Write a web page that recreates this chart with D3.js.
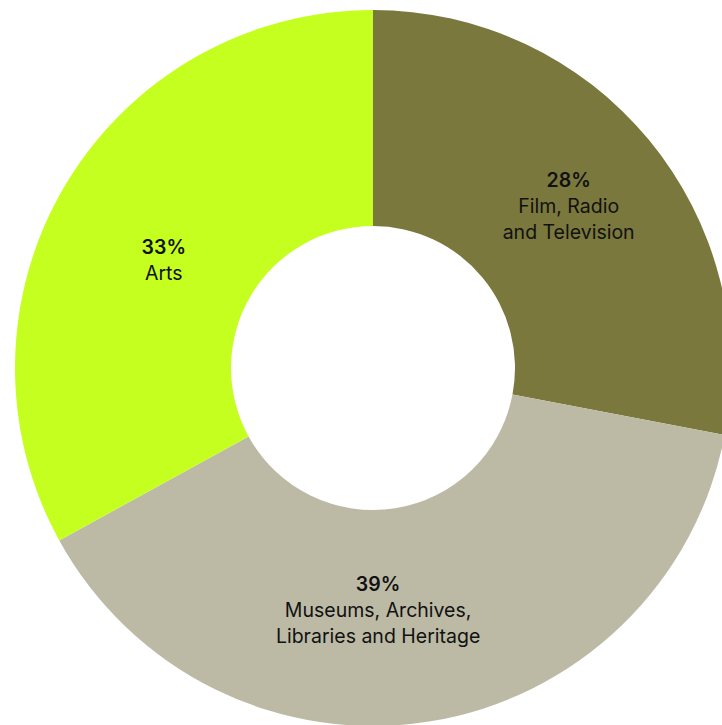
<!DOCTYPE html>
<html>
<head>
<meta charset="utf-8">
<script src="https://cdn.jsdelivr.net/npm/d3@7"></script>
<style>
  html, body { margin: 0; padding: 0; background: #ffffff; }
  svg { display: block; }
  text { font-family: Inter, "Noto Sans", sans-serif; fill: #111111; }
</style>
</head>
<body>
<svg id="chart" width="722" height="725"></svg>
<script>
// Share of funding by sector
const categories = ["Film, Radio and Television", "Museums, Archives, Libraries and Heritage", "Arts"];
const shares = [28, 39, 33];
const labelLines = [
  ["Film, Radio", "and Television"],
  ["Museums, Archives,", "Libraries and Heritage"],
  ["Arts"]
];

const colors = { "Film, Radio and Television": "#7a783d", "Museums, Archives, Libraries and Heritage": "#bcbaa5", "Arts": "#c4ff1f" };
// fine placement of each label block relative to its slice centroid
const labelNudge = { "Film, Radio and Television": [3, -2], "Museums, Archives, Libraries and Heritage": [-34, -5], "Arts": [6, 19] };

const svg = d3.select("#chart");
const cx = 373, cy = 368, outerR = 358, innerR = 142, labelR = 250;
const lineGap = 26;

const rows = categories.map((c, i) => ({ category: c, value: shares[i], lines: labelLines[i] }));

const pie = d3.pie().value(d => d.value).sort(null);
const arc = d3.arc().innerRadius(innerR).outerRadius(outerR);
const labelArc = d3.arc().innerRadius(labelR).outerRadius(labelR);

const g = svg.append("g").attr("transform", `translate(${cx},${cy})`);
const arcs = pie(rows);

g.selectAll("path.slice")
  .data(arcs)
  .join("path")
  .attr("class", "slice")
  .attr("d", arc)
  .attr("fill", d => colors[d.data.category]);

const labels = g.selectAll("text.label")
  .data(arcs)
  .join("text")
  .attr("class", "label")
  .attr("text-anchor", "middle")
  .attr("font-size", 19.5)
  .attr("transform", d => {
    const [x, y] = labelArc.centroid(d);
    const [nx, ny] = labelNudge[d.data.category];
    return `translate(${x + nx},${y + ny})`;
  });

labels.each(function(d) {
  const t = d3.select(this);
  const all = [d.data.value + "%"].concat(d.data.lines);
  const n = all.length;
  all.forEach((line, i) => {
    t.append("tspan")
      .attr("x", 0)
      .attr("y", (i - (n - 1) / 2) * lineGap)
      .attr("dy", "0.35em")
      .attr("font-weight", i === 0 ? 600 : 400)
      .text(line);
  });
});
</script>
</body>
</html>
